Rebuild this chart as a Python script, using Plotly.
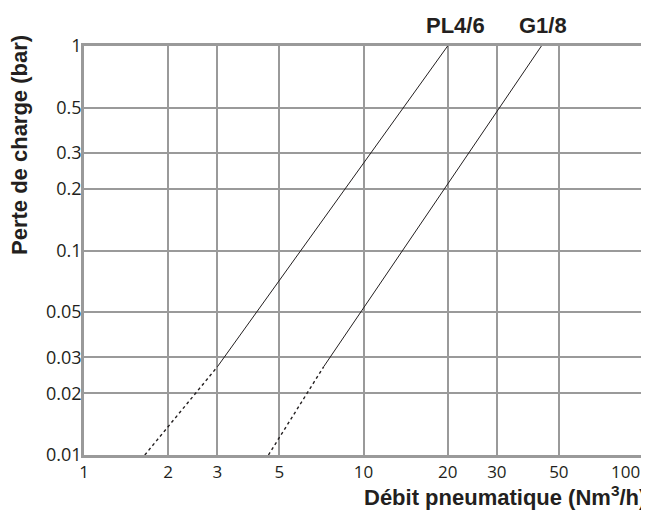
import math
import plotly.graph_objects as go

# Data
x_ticks = [1, 2, 3, 5, 10, 20, 30, 50, 100]
x_tick_text = ["1", "2", "3", "5", "10", "20", "30", "50", "100"]
y_ticks = [0.01, 0.02, 0.03, 0.05, 0.1, 0.2, 0.3, 0.5, 1]
y_tick_text = ["0.01", "0.02", "0.03", "0.05", "0.1", "0.2", "0.3", "0.5", "1"]

series_names = ["PL4/6", "G1/8"]
pl46_solid_x = [3.0, 20.0]
pl46_solid_y = [0.027, 1.0]
pl46_dot_x = [1.65, 3.0]
pl46_dot_y = [0.01, 0.027]
g18_solid_x = [7.2, 43.3]
g18_solid_y = [0.027, 1.0]
g18_dot_x = [4.57, 7.2]
g18_dot_y = [0.01, 0.027]
label_x = [20.0, 43.3]

grid_col = "#9a9a9a"
ink = "#231f20"
ytick_font = dict(family="Open Sans", size=18, color=ink)
xtick_font = dict(family="Open Sans", size=17, color=ink)
bold_font = dict(family="Liberation Sans", size=22, color=ink)

fig = go.Figure()
for xs, ys, dash, w in [
    (pl46_dot_x, pl46_dot_y, "dot", 1.4),
    (pl46_solid_x, pl46_solid_y, "solid", 1),
    (g18_dot_x, g18_dot_y, "dot", 1.4),
    (g18_solid_x, g18_solid_y, "solid", 1),
]:
    fig.add_trace(go.Scatter(x=xs, y=ys, mode="lines",
                             line=dict(color=ink, width=w, dash=dash),
                             showlegend=False, hoverinfo="skip"))

# last tick label is drawn as an annotation so it can sit right-aligned at the edge
fig.update_xaxes(type="log", range=[0, 2], tickvals=x_ticks,
                 ticktext=x_tick_text[:-1] + [""],
                 showgrid=True, gridcolor=grid_col, gridwidth=1.5,
                 showline=True, linecolor=grid_col, linewidth=2.5, mirror=True,
                 ticks="", tickfont=xtick_font, zeroline=False, automargin=False)
fig.update_yaxes(type="log", range=[-2, 0], tickvals=y_ticks, ticktext=y_tick_text,
                 showgrid=True, gridcolor=grid_col, gridwidth=1.5,
                 showline=True, linecolor=grid_col, linewidth=2.5, mirror=True,
                 ticks="", tickfont=ytick_font, zeroline=False,
                 ticklabelstandoff=-4, automargin=False)

annotations = [
    dict(text="<b>Perte de charge (bar)</b>", xref="paper", yref="paper",
         x=0, y=0.758, xshift=-64, textangle=-90, showarrow=False,
         xanchor="center", yanchor="middle", font=bold_font),
    dict(text="<b>Débit pneumatique (Nm<sup>3</sup>/h)</b>", xref="paper", yref="paper",
         x=1, y=0, xshift=5, yshift=-41, showarrow=False,
         xanchor="right", yanchor="middle", font=bold_font),
    dict(text=x_tick_text[-1], xref="paper", yref="paper",
         x=1, y=0, xshift=-1, yshift=-16, showarrow=False,
         xanchor="right", yanchor="middle", font=xtick_font),
]
for name, lx, sh in zip(series_names, label_x, [8, 2]):
    annotations.append(dict(text="<b>" + name + "</b>", xref="x", yref="paper",
                            x=math.log10(lx), y=1, xshift=sh, yshift=21,
                            showarrow=False, xanchor="center", yanchor="middle",
                            font=bold_font))

fig.update_layout(width=641, height=502,
                  margin=dict(l=76, r=6, t=38, b=55, autoexpand=False),
                  paper_bgcolor="white", plot_bgcolor="white",
                  annotations=annotations)

fig.write_html("out.html")
